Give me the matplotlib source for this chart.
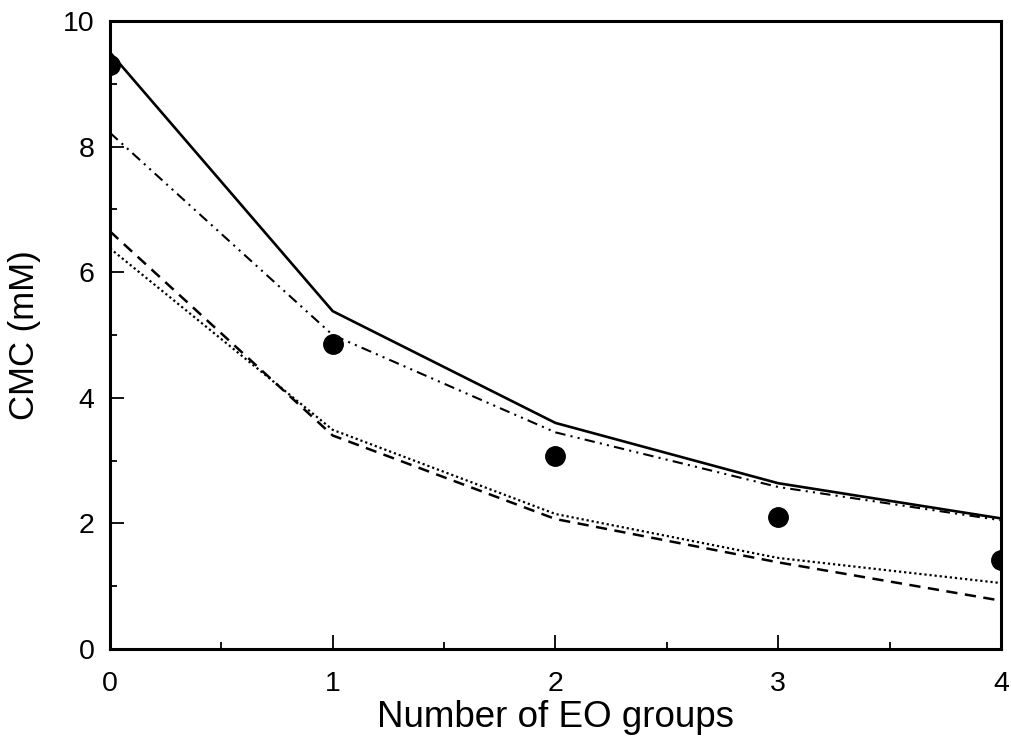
import matplotlib
matplotlib.use('Agg')
import matplotlib.pyplot as plt
from matplotlib.ticker import MultipleLocator

plt.rcParams['font.family'] = ['Liberation Sans', 'DejaVu Sans']

# number of EO groups
eo = [0, 1, 2, 3, 4]

# measured CMC (mM)
cmc_exp = [9.3, 4.85, 3.07, 2.1, 1.42]

# model curves
cmc_solid = [9.5, 5.38, 3.6, 2.64, 2.08]
cmc_dashdotdot = [8.22, 5.0, 3.45, 2.58, 2.05]
cmc_dotted = [6.38, 3.49, 2.15, 1.45, 1.05]
cmc_dashed = [6.65, 3.4, 2.07, 1.38, 0.77]

fig = plt.figure(figsize=(10.11, 7.38), dpi=100)
ax = fig.add_axes([0.1088, 0.1206, 0.8812, 0.8509])

ax.plot(eo, cmc_solid, color='black', lw=1.9, linestyle='-')
ax.plot(eo, cmc_dashdotdot, color='black', lw=1.5, linestyle=(0, (5, 2.5, 1, 2.5, 1, 2.5)))
ax.plot(eo, cmc_dotted, color='black', lw=1.6, linestyle=(0, (1, 1.3)))
ax.plot(eo, cmc_dashed, color='black', lw=1.8, linestyle=(0, (4.5, 3)))
ax.plot(eo, cmc_exp, 'o', color='black', markersize=14)

ax.set_xlim(0, 4)
ax.set_ylim(0, 10)
ax.xaxis.set_major_locator(MultipleLocator(1))
ax.xaxis.set_minor_locator(MultipleLocator(0.5))
ax.yaxis.set_major_locator(MultipleLocator(2))
ax.yaxis.set_minor_locator(MultipleLocator(1))
ax.tick_params(which='both', direction='in', top=False, right=False, width=1.3)
ax.tick_params(which='major', length=10, labelsize=20.5)
ax.tick_params(which='minor', length=5)
ax.tick_params(axis='x', which='major', pad=16)
ax.tick_params(axis='y', which='major', pad=11)
for s in ax.spines.values():
    s.set_linewidth(2.2)

ax.set_xlabel('Number of EO groups', fontsize=26.5)
ax.xaxis.set_label_coords(0.5, -0.082)
ax.set_ylabel('CMC (mM)', fontsize=25, labelpad=16)

fig.savefig('out.png', dpi=100)
